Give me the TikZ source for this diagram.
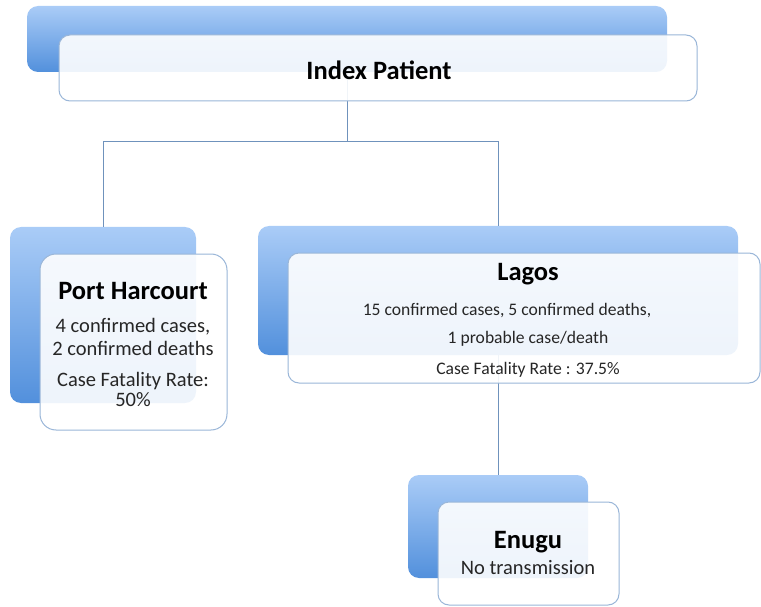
\documentclass[tikz,border=0pt]{standalone}
\usepackage{fontspec}
\setmainfont{Carlito}
\usetikzlibrary{calc}
\definecolor{boxtop}{HTML}{AACCF7}
\definecolor{boxbot}{HTML}{5290DC}
\definecolor{frameblue}{HTML}{9AB6D8}
\definecolor{linkblue}{HTML}{6F92BC}
\tikzset{
  backbox/.style={rectangle, rounded corners=11pt, top color=boxtop, bottom color=boxbot,
    draw=none, inner sep=0pt},
  frontbox/.style={rectangle, rounded corners=11pt, fill=white, fill opacity=0.9,
    draw=frameblue, line width=1pt, inner sep=0pt},
  link/.style={draw=linkblue, line width=1pt},
  title/.style={font=\fontsize{26.5}{30}\selectfont\bfseries, text=black, inner sep=0pt},
  bodytxt/.style={font=\fontsize{20.5}{24}\selectfont, text=black!85, inner sep=0pt},
  smalltxt/.style={font=\fontsize{17.6}{21}\selectfont, text=black!85, inner sep=0pt},
}
\begin{document}
\begin{tikzpicture}[x=1pt,y=1pt]
\useasboundingbox (0,0) rectangle (761,-607);

% level positions
\coordinate (bus) at (0,-142);

% back (shaded) boxes
\node[backbox, minimum width=640pt, minimum height=66pt] (ipb) at (347,-39) {};
\node[backbox, minimum width=186pt, minimum height=176pt] (phb) at (103,-315) {};
\node[backbox, minimum width=480pt, minimum height=129pt] (lgb) at (498,-290.5) {};
\node[backbox, minimum width=180pt, minimum height=103pt] (enb) at (498,-526.5) {};

% connectors
\begin{scope}[on background layer/.style={}]
\draw[link] (ipb.south) -- (ipb.south |- bus) -| (phb.north);
\draw[link] (ipb.south |- bus) -| (lgb.north);
\draw[link] (lgb.south) -- (enb.north);
\end{scope}

% front (white) boxes
\node[frontbox, minimum width=638pt, minimum height=66pt] (ipf) at (378,-68) {};
\node[frontbox, rounded corners=16pt, minimum width=187pt, minimum height=176pt] (phf) at (133.5,-342) {};
\node[frontbox, minimum width=472pt, minimum height=130pt] (lgf) at (524,-318) {};
\node[frontbox, minimum width=181pt, minimum height=103pt] (enf) at (528.5,-553.5) {};

% texts
\node[title] (ipt) at (379,-70) {Index Patient};

\node[title] (pht) at (133,-291) {Port Harcourt};
\node[bodytxt] (ph1) at (133,-327) {4 confirmed cases,};
\node[bodytxt] (ph2) at (133,-348) {2 confirmed deaths};
\node[bodytxt] (ph3) at (133,-381) {Case Fatality Rate:};
\node[bodytxt] (ph4) at (133,-400) {50\%};

\node[title] (lgt) at (528,-274) {Lagos};
\node[smalltxt] (lg1) at (507,-311) {15 confirmed cases, 5 confirmed deaths,};
\node[smalltxt] (lg2) at (528,-339) {1 probable case/death};
\node[smalltxt] (lg3) at (528,-370) {Case Fatality Rate : 37.5\%};

\node[title] (ent) at (528,-542) {Enugu};
\node[bodytxt] (en1) at (528,-568) {No transmission};
\end{tikzpicture}
\end{document}
